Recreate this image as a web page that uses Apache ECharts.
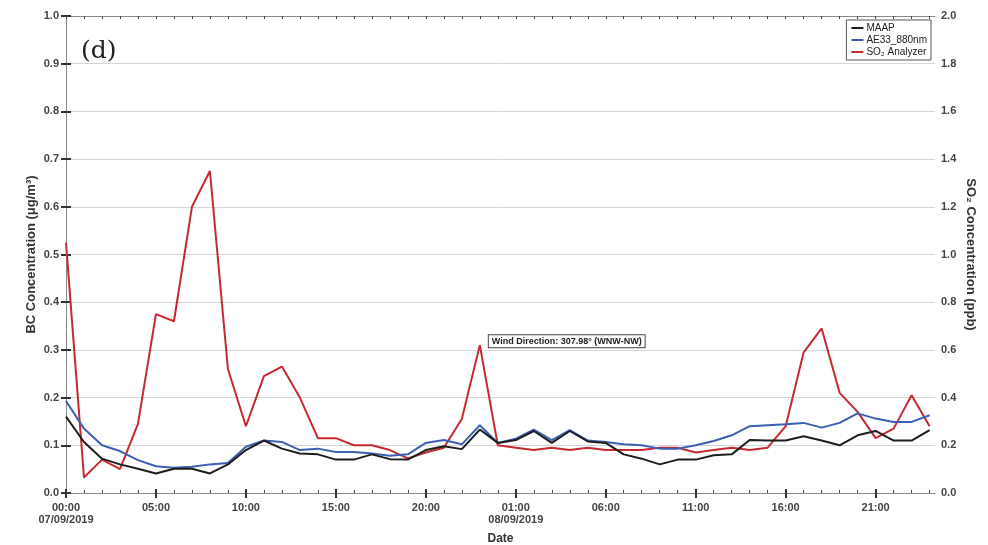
<!DOCTYPE html>
<html>
<head>
<meta charset="utf-8">
<script src="https://cdn.jsdelivr.net/npm/echarts@6/dist/echarts.min.js"></script>
<style>
html,body{margin:0;padding:0;background:#fff;}
#chart{width:988px;height:545px;}
</style>
</head>
<body>
<div id="chart"></div>
<script>
// Hours since 00:00 07/09/2019
const hours = [0,1,2,3,4,5,6,7,8,9,10,11,12,13,14,15,16,17,18,19,20,21,22,23,24,25,26,27,28,29,30,31,32,33,34,35,36,37,38,39,40,41,42,43,44,45,46,47,48];
// BC concentration (ug/m3)
const maap = [0.16,0.107,0.072,0.06,0.051,0.041,0.051,0.051,0.041,0.06,
              0.09,0.11,0.093,0.083,0.081,0.07,0.07,0.081,0.071,0.07,
              0.09,0.098,0.092,0.133,0.105,0.111,0.13,0.105,0.13,0.108,
              0.105,0.081,0.072,0.06,0.07,0.07,0.079,0.081,0.111,0.11,
              0.11,0.119,0.11,0.10,0.121,0.13,0.11,0.11,0.132];
const ae33 = [0.193,0.135,0.10,0.088,0.069,0.056,0.053,0.055,0.06,0.063,
              0.097,0.11,0.107,0.09,0.093,0.086,0.086,0.083,0.078,0.081,
              0.105,0.111,0.102,0.142,0.105,0.114,0.133,0.111,0.132,0.11,
              0.107,0.102,0.10,0.093,0.093,0.10,0.109,0.121,0.14,0.142,
              0.144,0.147,0.137,0.147,0.167,0.156,0.149,0.149,0.163];
// SO2 concentration (ppb)
const so2 = [1.05,0.065,0.14,0.10,0.29,0.75,0.72,1.20,1.35,0.52,
             0.28,0.49,0.53,0.40,0.23,0.23,0.20,0.20,0.18,0.145,
             0.17,0.19,0.31,0.62,0.20,0.19,0.18,0.19,0.18,0.19,
             0.18,0.18,0.18,0.19,0.19,0.17,0.18,0.19,0.18,0.19,
             0.28,0.59,0.69,0.42,0.34,0.23,0.27,0.41,0.28];
const seriesNames = ['MAAP','AE33_880nm','SO\u2082 Analyzer'];
const xLabelHours = [0,5,10,15,20,25,30,35,40,45];
const xLabelText = ['00:00\n07/09/2019','05:00','10:00','15:00','20:00','01:00\n08/09/2019','06:00','11:00','16:00','21:00'];
const windNote = 'Wind Direction: 307.98\u00b0 (WNW-NW)';
const windAt = [23, 0.62];

const FONT = '"Liberation Sans", Arial, sans-serif';
const chart = echarts.init(document.getElementById('chart'));
const pair = arr => arr.map((v,i)=>[hours[i], v]);
const xMin = 0, xMax = 48.3;

function xAxisBase(pos){
  return {type:'value', min:xMin, max:xMax, position:pos, gridIndex:0,
          splitLine:{show:false}, axisLabel:{show:false}, axisLine:{show:false}, axisTick:{show:false}};
}

const option = {
  animation:false,
  backgroundColor:'#fff',
  grid:{left:66, right:53, top:16, bottom:52, containLabel:false, outerBoundsMode:'none'},
  legend:{
    orient:'vertical', right:57, top:20,
    backgroundColor:'#fff', borderColor:'#555', borderWidth:1,
    padding:[3,4,3,4], itemGap:2, itemWidth:12, itemHeight:2,
    textStyle:{fontFamily:FONT, fontSize:10, color:'#222', padding:[0,0,0,-2]},
    data:seriesNames
  },
  xAxis:[
    Object.assign(xAxisBase('bottom'), {
      axisLine:{show:true, onZero:false, lineStyle:{color:'#888', width:1}},
      axisTick:{show:true, customValues:hours, inside:true, length:3, lineStyle:{color:'#444', width:1}},
      name:'Date', nameLocation:'middle', nameGap:40,
      nameTextStyle:{fontFamily:FONT, fontSize:12, fontWeight:'bold', color:'#333'}
    }),
    Object.assign(xAxisBase('bottom'), {
      axisTick:{show:true, customValues:xLabelHours, inside:false, length:5, lineStyle:{color:'#333', width:2}},
      axisLabel:{show:true, customValues:xLabelHours, margin:9,
        fontFamily:FONT, fontSize:11, fontWeight:'bold', color:'#444', lineHeight:12,
        formatter:v => { const i = xLabelHours.indexOf(Math.round(v)); return i>=0 ? xLabelText[i] : ''; }}
    }),
    Object.assign(xAxisBase('top'), {
      axisLine:{show:true, onZero:false, lineStyle:{color:'#888', width:1}},
      axisTick:{show:true, customValues:hours, inside:true, length:3, lineStyle:{color:'#444', width:1}}
    }),
    Object.assign(xAxisBase('top'), {
      axisTick:{show:true, customValues:xLabelHours, inside:false, length:4, lineStyle:{color:'#333', width:2}}
    })
  ],
  yAxis:[
    {type:'value', min:0, max:1, interval:0.1, position:'left',
     name:'BC Concentration (\u03bcg/m\u00b3)', nameLocation:'middle', nameGap:28, nameMoveOverlap:false,
     nameTextStyle:{fontFamily:FONT, fontSize:13, fontWeight:'bold', color:'#333'},
     axisLine:{show:true, lineStyle:{color:'#888'}},
     axisTick:{show:true, length:5, lineStyle:{color:'#333', width:2}},
     axisLabel:{fontFamily:FONT, fontSize:11, fontWeight:'bold', color:'#444', margin:7, formatter:v=>v.toFixed(1)},
     splitLine:{show:true, lineStyle:{color:'#d6d6d6', width:1}}},
    {type:'value', min:0, max:2, interval:0.2, position:'right',
     name:'SO\u2082 Concentration (ppb)', nameLocation:'middle', nameGap:29, nameRotate:-90, nameMoveOverlap:false,
     nameTextStyle:{fontFamily:FONT, fontSize:13, fontWeight:'bold', color:'#333'},
     axisLine:{show:true, lineStyle:{color:'#888'}},
     axisTick:{show:true, length:5, lineStyle:{color:'#333', width:2}},
     axisLabel:{fontFamily:FONT, fontSize:11, fontWeight:'bold', color:'#444', margin:6, formatter:v=>v.toFixed(1)},
     splitLine:{show:false}}
  ],
  graphic:[
    {type:'text', left:81, top:39, style:{text:'(d)', font:'25px "DejaVu Serif", serif', fill:'#222'}}
  ],
  series:[
    {name:seriesNames[0], type:'line', xAxisIndex:0, yAxisIndex:0, data:pair(maap),
     symbol:'none', lineStyle:{color:'#1e1e1e', width:2}, itemStyle:{color:'#1e1e1e'}, z:3},
    {name:seriesNames[1], type:'line', xAxisIndex:0, yAxisIndex:0, data:pair(ae33),
     symbol:'none', lineStyle:{color:'#3d5fb3', width:2}, itemStyle:{color:'#3d5fb3'}, z:2},
    {name:seriesNames[2], type:'line', xAxisIndex:0, yAxisIndex:1, data:pair(so2),
     symbol:'none', lineStyle:{color:'#c42a30', width:2}, itemStyle:{color:'#c42a30'}, z:1,
     markPoint:{symbol:'circle', symbolSize:0, silent:true,
       data:[{coord:windAt, value:0,
         label:{show:true, position:'right', distance:8, offset:[1,-4], formatter:windNote,
           fontFamily:FONT, fontSize:9, fontWeight:'bold', color:'#222',
           backgroundColor:'#fff', borderColor:'#444', borderWidth:1, padding:[2,3,1,3]}}]}}
  ]
};
chart.setOption(option);
</script>
</body>
</html>
